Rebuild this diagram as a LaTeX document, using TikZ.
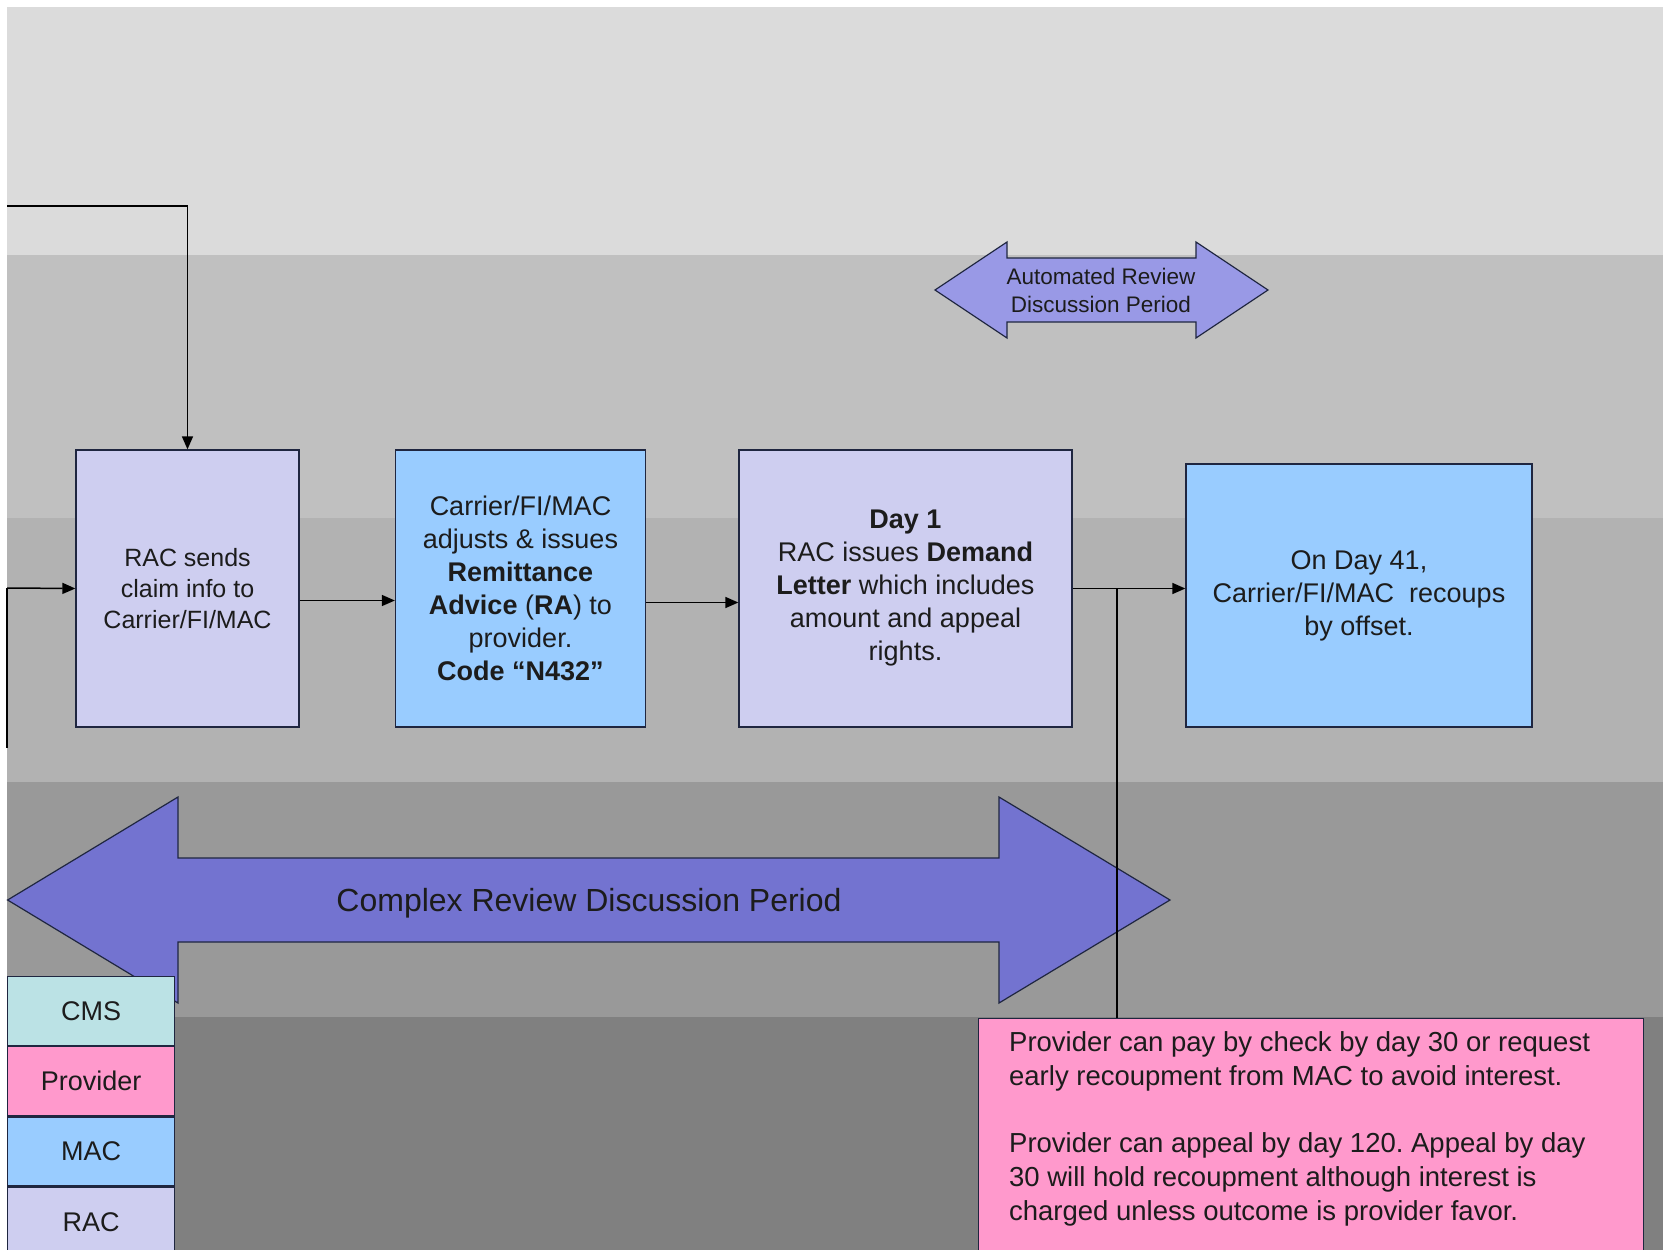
\documentclass[tikz,border=0pt]{standalone}
\usepackage{fontspec}
\setmainfont{Liberation Sans}
\usetikzlibrary{calc, positioning, arrows.meta}
\definecolor{bandA}{RGB}{219,219,219}
\definecolor{bandB}{RGB}{192,192,192}
\definecolor{bandC}{RGB}{178,178,178}
\definecolor{bandD}{RGB}{153,153,153}
\definecolor{bandE}{RGB}{128,128,128}
\definecolor{lavender}{RGB}{206,206,240}
\definecolor{macblue}{RGB}{153,204,255}
\definecolor{provpink}{RGB}{255,153,204}
\definecolor{cmsteal}{RGB}{187,226,229}
\definecolor{autoarrow}{RGB}{153,153,230}
\definecolor{cplxarrow}{RGB}{115,115,208}
\definecolor{boxline}{RGB}{31,38,64}
\definecolor{textgray}{RGB}{28,28,28}
\frenchspacing

\begin{document}
\begin{tikzpicture}[x=1pt, y=-1pt,
  procbox/.style={draw=boxline, line width=1.3pt, fill=#1, inner sep=0pt,
    align=center, text=textgray},
  keycell/.style={draw=boxline, line width=1.2pt, fill=#1, inner sep=0pt,
    minimum width=167pt, minimum height=69pt,
    font=\fontsize{27}{32}\selectfont, text=textgray},
  band/.style={fill=#1, draw=none},
  period/.style={draw=boxline, line width=1.2pt, fill=#1},
  arw/.style={-{Triangle[length=13pt, width=11pt]}, line width=1.5pt, black},
  wire/.style={line width=1.5pt, black},
]
\useasboundingbox (0,0) rectangle (1663,1250);
\clip (0,0) rectangle (1663,1250);

% Swim lane bands
\fill[band=bandA] (7,7) rectangle (1663,255);
\fill[band=bandB] (7,255) rectangle (1663,518);
\fill[band=bandC] (7,518) rectangle (1663,782);
\fill[band=bandD] (7,782) rectangle (1663,1017);
\fill[band=bandE] (7,1017) rectangle (1663,1250);

% Discussion periods
\draw[period=autoarrow] (935,290) -- (1007,242) -- (1007,258) -- (1196,258)
  -- (1196,242) -- (1268,290) -- (1196,338) -- (1196,322) -- (1007,322)
  -- (1007,338) -- cycle;
\node[font=\fontsize{22.5}{28}\selectfont, align=center, text=textgray]
  (autolbl) at (1101,290) {Automated Review\\Discussion Period};

\draw[period=cplxarrow] (7.6,900) -- (178,797) -- (178,858) -- (999,858)
  -- (999,797) -- (1170,900) -- (999,1003) -- (999,942) -- (178,942)
  -- (178,1003) -- cycle;
\node[font=\fontsize{32}{38}\selectfont, text=textgray]
  (cplxlbl) at (589,903) {Complex Review Discussion Period};

% Process boxes
\node[procbox=lavender, minimum width=223pt, minimum height=277pt,
  font=\fontsize{25}{31}\selectfont] (sends) at (187.5,588.5)
  {RAC sends\\claim info to\\Carrier/FI/MAC};
\node[procbox=macblue, minimum width=250pt, minimum height=277pt,
  font=\fontsize{27}{33}\selectfont] (adjust) at (520.5,588.5)
  {Carrier/FI/MAC\\adjusts \& issues\\\textbf{Remittance}\\\textbf{Advice} (\textbf{RA}) to\\provider.\\\textbf{Code “N432”}};
\node[procbox=lavender, minimum width=333pt, minimum height=277pt,
  font=\fontsize{27}{33}\selectfont] (demand) at (905.5,588.5)
  {\textbf{Day 1}\\RAC issues \textbf{Demand}\\\textbf{Letter} which includes\\amount and appeal\\rights.};
\node[procbox=macblue, minimum width=346pt, minimum height=263pt,
  font=\fontsize{27}{33}\selectfont] (recoup) at (1359,595.5)
  {On Day 41,\\Carrier/FI/MAC~ recoups\\by offset.};

% Provider note
\node[procbox=provpink, minimum width=665pt, minimum height=250pt,
  anchor=north west, font=\fontsize{27.5}{34}\selectfont] (note) at (978,1018)
  {\parbox[t][224pt][t]{604pt}{\raggedright
   Provider can pay by check by day 30 or request early recoupment from MAC to avoid interest.\par\vspace{33pt}
   Provider can appeal by day 120. Appeal by day 30 will hold recoupment although interest is charged unless outcome is provider favor.}};

% Connectors
\coordinate (topin) at (7,206);
\coordinate (leftin) at (7,588);
\coordinate (leftdown) at (7,748);
\coordinate (split) at (1117,588);
\draw[arw] (topin) -| (sends.north);
\draw[arw] (leftin) -- (sends.west);
\draw[wire] (leftin) -- (leftdown);
\draw[arw] ([yshift=-12pt]sends.east) -- ([yshift=-12pt]sends.east -| adjust.west);
\draw[arw] ([yshift=-14pt]adjust.east) -- ([yshift=-14pt]adjust.east -| demand.west);
\draw[arw] (demand.east) -- (demand.east -| recoup.west);
\draw[wire] (split) -- (split |- note.north);

% Legend
\node[keycell=cmsteal, anchor=north west] (kcms) at (7,976) {CMS};
\node[keycell=provpink, below=0pt of kcms] (kprov) {Provider};
\node[keycell=macblue, below=0pt of kprov] (kmac) {MAC};
\node[keycell=lavender, below=0pt of kmac] (krac) {RAC};
\end{tikzpicture}
\end{document}
